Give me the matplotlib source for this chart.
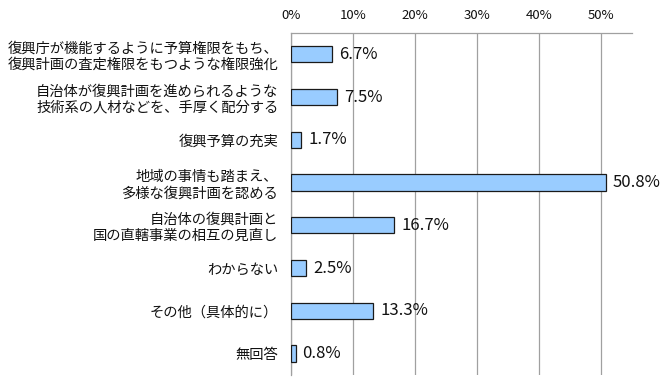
import matplotlib.pyplot as plt
import numpy as np

plt.rcParams['font.family'] = ['Noto Sans CJK JP', 'DejaVu Sans']

# categories (top to bottom) and percentages
labels = [
    '復興庁が機能するように予算権限をもち、\n復興計画の査定権限をもつような権限強化',
    '自治体が復興計画を進められるような\n技術系の人材などを、手厚く配分する',
    '復興予算の充実',
    '地域の事情も踏まえ、\n多様な復興計画を認める',
    '自治体の復興計画と\n国の直轄事業の相互の見直し',
    'わからない',
    'その他（具体的に）',
    '無回答',
]
values = [6.7, 7.5, 1.7, 50.8, 16.7, 2.5, 13.3, 0.8]
ticks = [0, 10, 20, 30, 40, 50]

fig = plt.figure(figsize=(6.7, 3.87), dpi=100)
ax = fig.add_axes([0.434, 0.031, 0.509, 0.884])

y = np.arange(len(values))
ax.barh(y, values, height=0.38, color='#99CCFF', edgecolor='#1a1a1a', linewidth=0.9, zorder=3)
for yi, v in zip(y, values):
    ax.text(v + 1.1, yi, f'{v:.1f}%', va='center', ha='left', fontsize=12, color='#111111', zorder=4)

ax.set_xlim(0, 55)
ax.set_ylim(len(values) - 0.5, -0.5)
ax.set_yticks(y)
ax.set_yticklabels(labels, fontsize=10.3, linespacing=1.2)
ax.set_xticks(ticks)
ax.set_xticklabels([f'{t}%' for t in ticks], fontsize=9.5)
ax.xaxis.tick_top()
ax.tick_params(axis='both', length=0, colors='#111111')
ax.tick_params(axis='x', pad=8)
ax.tick_params(axis='y', pad=9)
ax.grid(axis='x', color='#A0A0A0', linewidth=0.9, zorder=0)
for s in ['right', 'bottom']:
    ax.spines[s].set_visible(False)
for s in ['top', 'left']:
    ax.spines[s].set_color('#A0A0A0')
    ax.spines[s].set_linewidth(0.9)

fig.savefig('out.png', dpi=100)
